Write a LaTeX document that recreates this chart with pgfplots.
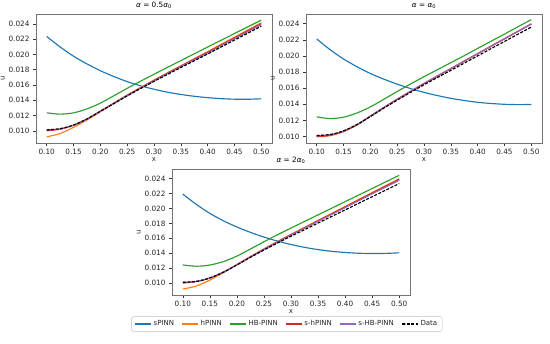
\documentclass[border=0pt]{standalone}
\usepackage{fontspec}
\setmainfont{DejaVu Sans}
\usepackage{pgfplots}
\usepackage{pgfplotstable}
\pgfplotsset{compat=1.18}
\definecolor{c0}{HTML}{1F77B4}
\definecolor{c1}{HTML}{FF7F0E}
\definecolor{c2}{HTML}{2CA02C}
\definecolor{c3}{HTML}{D62728}
\definecolor{c4}{HTML}{9467BD}
\pgfplotstableread{
x s h hb sh shb d
0.100 0.02236 0.00920 0.01235 0.01000 0.01010 0.01012
0.125 0.02098 0.00965 0.01218 0.01020 0.01025 0.01028
0.150 0.01977 0.01045 0.01235 0.01072 0.01073 0.01075
0.175 0.01876 0.01142 0.01287 0.01153 0.01154 0.01155
0.200 0.01787 0.01248 0.01362 0.01258 0.01255 0.01255
0.225 0.01711 0.01362 0.01458 0.01361 0.01357 0.01355
0.250 0.01644 0.01467 0.01556 0.01465 0.01461 0.01457
0.275 0.01589 0.01567 0.01650 0.01563 0.01558 0.01553
0.300 0.01544 0.01664 0.01740 0.01660 0.01654 0.01647
0.325 0.01506 0.01759 0.01830 0.01754 0.01747 0.01738
0.350 0.01476 0.01852 0.01919 0.01846 0.01839 0.01828
0.375 0.01452 0.01945 0.02008 0.01938 0.01929 0.01917
0.400 0.01434 0.02037 0.02097 0.02029 0.02020 0.02006
0.425 0.01421 0.02132 0.02185 0.02123 0.02113 0.02097
0.450 0.01414 0.02226 0.02274 0.02216 0.02206 0.02188
0.475 0.01413 0.02321 0.02362 0.02310 0.02298 0.02279
0.500 0.01419 0.02415 0.02450 0.02403 0.02391 0.02370
}\tabA
\pgfplotstableread{
x s h hb sh shb d
0.100 0.02210 0.00998 0.01244 0.01000 0.01010 0.01013
0.125 0.02077 0.01011 0.01223 0.01015 0.01022 0.01025
0.150 0.01962 0.01061 0.01240 0.01065 0.01068 0.01070
0.175 0.01866 0.01142 0.01292 0.01146 0.01148 0.01148
0.200 0.01782 0.01250 0.01368 0.01254 0.01251 0.01248
0.225 0.01712 0.01357 0.01462 0.01361 0.01358 0.01352
0.250 0.01650 0.01460 0.01558 0.01464 0.01461 0.01452
0.275 0.01595 0.01558 0.01652 0.01562 0.01559 0.01548
0.300 0.01548 0.01655 0.01742 0.01659 0.01656 0.01642
0.325 0.01508 0.01748 0.01829 0.01752 0.01749 0.01732
0.350 0.01474 0.01840 0.01916 0.01844 0.01841 0.01821
0.375 0.01447 0.01933 0.02003 0.01937 0.01934 0.01911
0.400 0.01425 0.02025 0.02093 0.02029 0.02026 0.02000
0.425 0.01410 0.02118 0.02182 0.02122 0.02119 0.02090
0.450 0.01400 0.02210 0.02271 0.02214 0.02211 0.02179
0.475 0.01396 0.02302 0.02361 0.02306 0.02303 0.02269
0.500 0.01398 0.02394 0.02450 0.02398 0.02395 0.02358
}\tabB
\pgfplotstableread{
x s h hb sh shb d
0.100 0.02193 0.00920 0.01243 0.01000 0.01010 0.01010
0.125 0.02055 0.00960 0.01226 0.01020 0.01023 0.01022
0.150 0.01935 0.01040 0.01242 0.01068 0.01070 0.01068
0.175 0.01835 0.01140 0.01288 0.01148 0.01147 0.01145
0.200 0.01752 0.01248 0.01362 0.01246 0.01243 0.01243
0.225 0.01680 0.01355 0.01457 0.01353 0.01349 0.01345
0.250 0.01617 0.01458 0.01554 0.01455 0.01451 0.01443
0.275 0.01563 0.01557 0.01648 0.01554 0.01548 0.01537
0.300 0.01517 0.01653 0.01738 0.01650 0.01643 0.01628
0.325 0.01479 0.01746 0.01826 0.01742 0.01735 0.01716
0.350 0.01449 0.01840 0.01915 0.01836 0.01828 0.01805
0.375 0.01426 0.01933 0.02003 0.01928 0.01919 0.01893
0.400 0.01410 0.02026 0.02092 0.02021 0.02011 0.01981
0.425 0.01400 0.02120 0.02180 0.02115 0.02104 0.02070
0.450 0.01396 0.02213 0.02268 0.02207 0.02196 0.02158
0.475 0.01398 0.02306 0.02357 0.02300 0.02287 0.02246
0.500 0.01406 0.02399 0.02445 0.02392 0.02379 0.02334
}\tabC
\pgfplotsset{
  panel/.style={
    scale only axis,
    xmin=0.08, xmax=0.52,
    xtick={0.10,0.15,...,0.51},
    ytick={0.010,0.012,...,0.0245},
    xtick pos=bottom, ytick pos=left,
    tick align=outside,
    major tick length=3pt,
    tick style={black!80, line width=0.5pt},
    axis line style={black!55, line width=0.6pt},
    every tick label/.append style={font=\fontsize{7.3}{8}\selectfont, text=black!85},
    /pgf/number format/assume math mode=true,
    xticklabel style={/pgf/number format/.cd, fixed, fixed zerofill, precision=2},
    yticklabel style={/pgf/number format/.cd, fixed, fixed zerofill, precision=3},
    scaled y ticks=false, scaled x ticks=false,
    xlabel={x}, ylabel={u},
    label style={font=\fontsize{7}{8}\selectfont, text=black!85},
    xlabel style={yshift=4pt},
    ylabel style={yshift=-3pt},
    title style={font=\fontsize{7.3}{8}\selectfont, yshift=-4pt},
    every axis plot/.append style={line width=1.15pt, smooth},
  }
}
\newcommand{\curves}[1]{%
  \addplot[c0] table[x=x,y=s]{#1};
  \addplot[c1] table[x=x,y=h]{#1};
  \addplot[c2] table[x=x,y=hb]{#1};
  \addplot[c3] table[x=x,y=sh]{#1};
  \addplot[c4] table[x=x,y=shb]{#1};
  \addplot[black, dash pattern=on 3pt off 1.5pt] table[x=x,y=d]{#1};
}
\begin{document}
\begin{tikzpicture}
\path[use as bounding box] (0,0) rectangle (550pt,344pt);
\begin{axis}[panel, at={(36pt,201pt)}, anchor=south west, width=236pt, height=129pt,
  ymin=0.0084, ymax=0.0253, title={\textit{α} = 0.5\textit{α}\textsubscript{0}}]
\curves{\tabA}
\end{axis}
\begin{axis}[panel, at={(306pt,201pt)}, anchor=south west, width=236pt, height=129pt,
  ymin=0.0092, ymax=0.0252, title={\textit{α} = \textit{α}\textsubscript{0}}]
\curves{\tabB}
\end{axis}
\begin{axis}[panel, at={(172pt,49pt)}, anchor=south west, width=238pt, height=126pt,
  ymin=0.0084, ymax=0.0253, title={\textit{α} = 2\textit{α}\textsubscript{0}},
  legend columns=6,
  legend style={at={(0.483,-0.17)}, anchor=north, draw=black!25, rounded corners=1.5pt,
    font=\fontsize{7}{8}\selectfont, text=black!85, inner xsep=3pt, inner ysep=2pt,
    /tikz/every even column/.append style={column sep=5.5pt}},
  legend image post style={line width=1.1pt},
  legend image code/.code={\draw[#1] plot coordinates {(0pt,0pt) (8pt,0pt) (16pt,0pt)};}]
\curves{\tabC}
\legend{sPINN, hPINN, HB-PINN, s-hPINN, s-HB-PINN, Data}
\end{axis}
\end{tikzpicture}
\end{document}
